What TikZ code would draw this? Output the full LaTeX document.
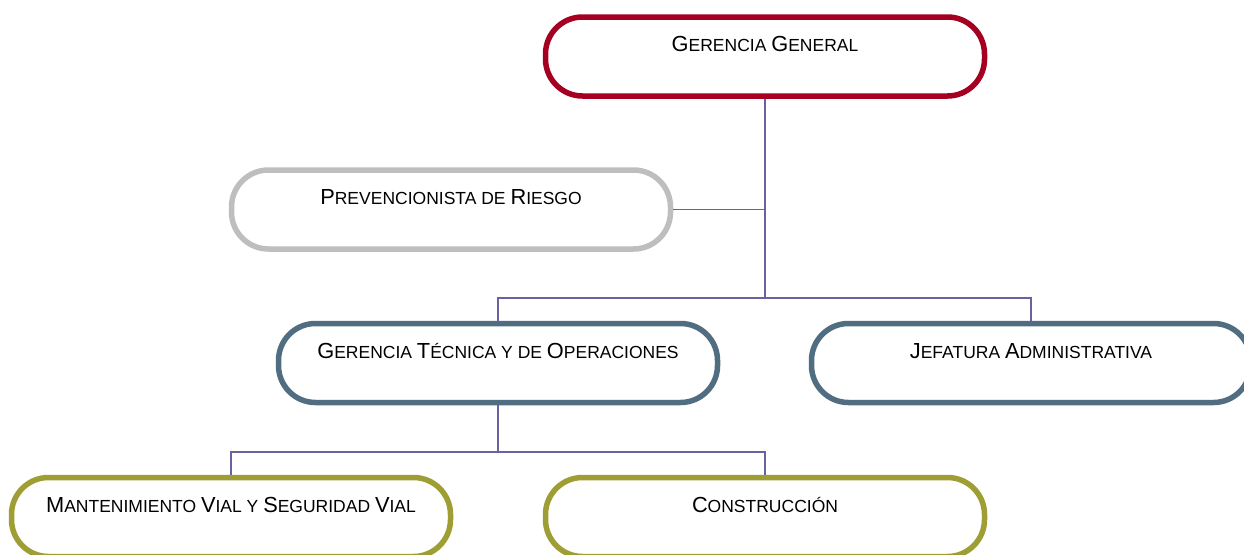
\documentclass[tikz,border=0pt]{standalone}
\usepackage{fontspec}
\setmainfont{Liberation Sans}
\usetikzlibrary{calc}
\definecolor{ggred}{RGB}{165,0,33}
\definecolor{prgray}{RGB}{190,190,190}
\definecolor{slate}{RGB}{80,109,130}
\definecolor{olive}{RGB}{158,158,52}
\definecolor{conncol}{RGB}{104,98,160}
\newcommand\BC[1]{{\fontsize{21.8}{24}\selectfont #1}}
\tikzset{
  orgbox/.style={draw=#1, line width=5.5pt, fill=white, rounded corners=37pt,
    minimum width=439pt, minimum height=79pt, inner sep=0pt},
  lbl/.style={anchor=base, inner sep=0pt, font=\fontsize{17.5}{20}\selectfont},
  conn/.style={draw=conncol, line width=1.5pt}
}
\begin{document}
\begin{tikzpicture}[x=1pt,y=1pt]
\useasboundingbox[fill=white] (0,0) rectangle (1244,-554);
% boxes
\node[orgbox=ggred]  (gg)   at (765,-56.5) {};
\node[orgbox=prgray] (prev) at (451,-209.5) {};
\node[orgbox=slate]  (gt)   at (498,-363) {};
\node[orgbox=slate]  (ja)   at (1031,-363) {};
\node[orgbox=olive]  (mv)   at (231,-517) {};
\node[orgbox=olive]  (co)   at (765,-517) {};
% labels
\node[lbl] (ggt)   at ($(gg.north)+(0,-37.5)$)   {\BC{G}ERENCIA \BC{G}ENERAL};
\node[lbl] (prevt) at ($(prev.north)+(0,-37.5)$) {\BC{P}REVENCIONISTA DE \BC{R}IESGO};
\node[lbl] (gtt)   at ($(gt.north)+(0,-37.5)$)   {\BC{G}ERENCIA \BC{T}ÉCNICA Y DE \BC{O}PERACIONES};
\node[lbl] (jat)   at ($(ja.north)+(0,-37.5)$)   {\BC{J}EFATURA \BC{A}DMINISTRATIVA};
\node[lbl] (mvt)   at ($(mv.north)+(0,-37.5)$)   {\BC{M}ANTENIMIENTO \BC{V}IAL Y \BC{S}EGURIDAD \BC{V}IAL};
\node[lbl] (cot)   at ($(co.north)+(0,-37.5)$)   {\BC{C}ONSTRUCCIÓN};
% connectors
\coordinate (b1) at (765,-298);
\coordinate (b2) at (498,-452);
\draw[conn] (gg.south) -- (b1);
\draw[conn] (prev.east) -- (prev.east -| gg.south);
\draw[conn] (gt.north) |- (b1) -| (ja.north);
\draw[conn] (gt.south) -- (b2);
\draw[conn] (mv.north) |- (b2) -| (co.north);
\end{tikzpicture}
\end{document}
